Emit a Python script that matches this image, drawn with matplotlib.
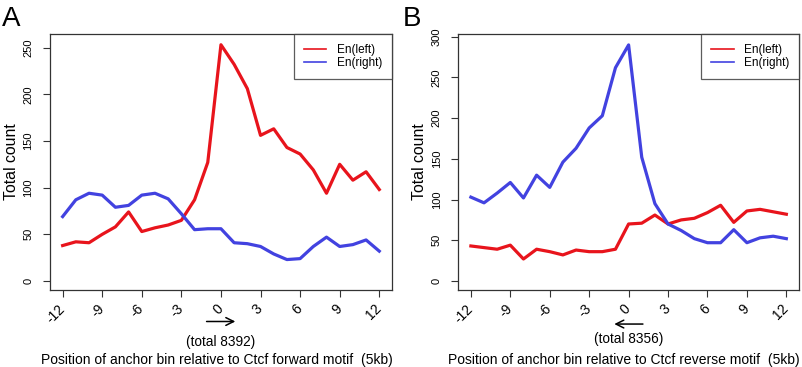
import numpy as np
import matplotlib
matplotlib.use('Agg')
import matplotlib.pyplot as plt

plt.rcParams['font.family'] = ['Liberation Sans', 'DejaVu Sans']

# bin positions relative to the motif
positions = list(range(-12, 13))
xticks = list(range(-12, 13, 3))

# panel A: forward motif
a_left = [38, 42, 41, 50, 58, 74, 53, 57, 60, 65, 87, 127, 253, 232, 206, 156, 163,
          143, 136, 119, 94, 125, 108, 117, 98]
a_right = [69, 87, 94, 92, 79, 81, 92, 94, 88, 72, 55, 56, 56, 41, 40, 37, 29,
           23, 24, 37, 47, 37, 39, 44, 32]
a_total = 8392

# panel B: reverse motif
b_left = [43, 41, 39, 44, 27, 39, 36, 32, 38, 36, 36, 39, 70, 71, 81, 70, 75,
          77, 84, 93, 72, 86, 88, 85, 82]
b_right = [103, 96, 108, 121, 102, 130, 115, 146, 163, 188, 203, 262, 290, 152, 95, 70, 62,
           52, 47, 47, 63, 47, 53, 55, 52]
b_total = 8356

RED = '#e8141c'
BLUE = '#4242e0'

fig = plt.figure(figsize=(8.02, 3.67), dpi=100)
ax_a = fig.add_axes([0.0623, 0.2098, 0.4264, 0.6975])
ax_b = fig.add_axes([0.5714, 0.2098, 0.4248, 0.6975])


def draw_panel(ax, left, right, ylim, yticks, total, motif, arrow_dir):
    ax.plot(positions, left, color=RED, lw=2.3, label='En(left)', solid_joinstyle='round')
    ax.plot(positions, right, color=BLUE, lw=2.3, label='En(right)', solid_joinstyle='round')
    ax.set_xlim(-12.96, 12.96)
    ax.set_ylim(*ylim)
    ax.set_xticks(xticks)
    ax.set_xticklabels([str(t) for t in xticks], rotation=45,
                       ha='right', va='center', rotation_mode='anchor', fontsize=10)
    ax.set_yticks(yticks)
    ax.set_yticklabels([str(t) for t in yticks], rotation=90, va='center', fontsize=8)
    ax.tick_params(direction='out', length=5, width=0.8, color='#333333')
    ax.tick_params(axis='y', pad=7)
    ax.tick_params(axis='x', pad=7)
    for s in ax.spines.values():
        s.set_linewidth(0.9)
        s.set_color('#333333')
    ax.set_ylabel('Total count', fontsize=11.4)
    ax.yaxis.set_label_coords(-0.092, 0.5)
    leg = ax.legend(loc='upper right', fontsize=8.5, frameon=True, fancybox=False,
                    borderaxespad=0, handlelength=1.9, handletextpad=0.85,
                    borderpad=0.85, labelspacing=0.05)
    leg.get_frame().set_edgecolor('#333333')
    leg.get_frame().set_linewidth(0.9)
    for h in leg.get_lines():
        h.set_linewidth(1.2)
    if arrow_dir > 0:
        ax.annotate('', xy=(1.3, -0.123), xytext=(-1.3, -0.123),
                    xycoords=('data', 'axes fraction'), textcoords=('data', 'axes fraction'),
                    arrowprops=dict(arrowstyle='->', lw=1.1, color='black',
                                    mutation_scale=14), annotation_clip=False)
    else:
        ax.annotate('', xy=(-1.3, -0.133), xytext=(1.3, -0.133),
                    xycoords=('data', 'axes fraction'), textcoords=('data', 'axes fraction'),
                    arrowprops=dict(arrowstyle='->', lw=1.1, color='black',
                                    mutation_scale=14), annotation_clip=False)
    ax.text(0, -0.205 if arrow_dir > 0 else -0.19, '(total %d)' % total,
            transform=ax.get_xaxis_transform(), ha='center', va='center', fontsize=9.8)
    ax.text(0.487, -0.275, 'Position of anchor bin relative to Ctcf %s motif  (5kb)' % motif,
            transform=ax.transAxes, ha='center', va='center', fontsize=10)


draw_panel(ax_a, a_left, a_right, (-9.6, 264.5), [0, 50, 100, 150, 200, 250],
           a_total, 'forward', 1)
draw_panel(ax_b, b_left, b_right, (-11.1, 303.4), [0, 50, 100, 150, 200, 250, 300],
           b_total, 'reverse', -1)

fig.text(0.002, 0.985, 'A', fontsize=20, ha='left', va='top')
fig.text(0.502, 0.985, 'B', fontsize=20, ha='left', va='top')

fig.savefig('out.png', dpi=100)
